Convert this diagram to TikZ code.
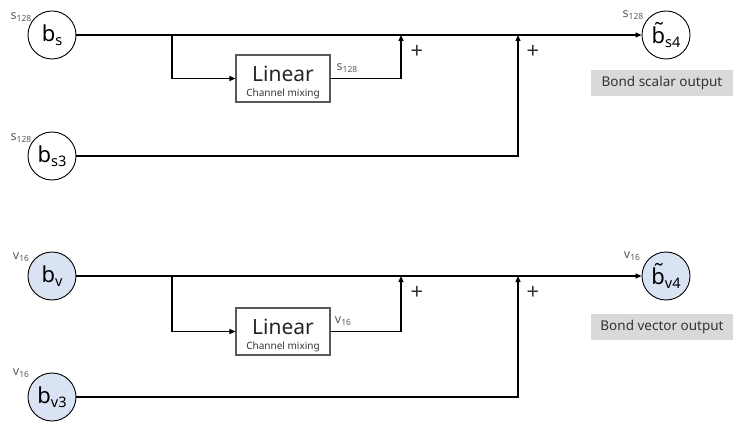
\documentclass[tikz,border=0pt]{standalone}
\usepackage{fontspec}
\setmainfont{Noto Sans}
\usetikzlibrary{arrows.meta}
\definecolor{vblue}{HTML}{DAE3F3}
\definecolor{lgray}{HTML}{D9D9D9}
\definecolor{tgray}{HTML}{595959}
\newcommand\mainsym[2]{{\fontsize{22}{22}\selectfont #1}\raisebox{-4.5pt}{\fontsize{14.5}{14.5}\selectfont #2}}
\newcommand\dimlab[2]{\textcolor{tgray}{{\fontsize{12.5}{12.5}\selectfont #1}\raisebox{-2pt}{\fontsize{8.5}{8.5}\selectfont #2}}}
\begin{document}
\begin{tikzpicture}[x=1pt,y=-1pt,
 circ/.style={circle,draw,line width=0.9pt,minimum size=48pt,inner sep=0pt},
 lin/.style={line width=1.3pt},
 arr/.style={lin,-{Triangle[length=6pt,width=5pt]}},
 linbox/.style={draw=tgray,line width=1.1pt,minimum width=94pt,minimum height=47pt,inner sep=0pt},
 bigtxt/.style={inner sep=0pt,anchor=base,font=\fontsize{21}{21}\selectfont,text=black!85},
 smalltxt/.style={inner sep=0pt,anchor=base,font=\fontsize{10}{10}\selectfont,text=black!80},
 outbox/.style={fill=lgray,minimum width=142pt,minimum height=26pt,inner sep=0pt,font=\fontsize{13.5}{13.5}\selectfont,text=black!80},
 plus/.style={font=\fontsize{22}{22}\selectfont,inner sep=0pt,text=black!80},
 dim/.style={inner sep=0pt}]
\useasboundingbox (0,0) rectangle (733,422);

% ---------- scalar part ----------
\node[circ] (bs) at (52,35) {\mainsym{b}{s}};
\node[circ] (bs3) at (52,156) {\mainsym{b}{s3}};
\node[circ] (bs4) at (666,35) {\mainsym{\~{b}}{s4}};
\node[linbox] (lins) at (283,78.5) {};
\node[bigtxt] (lins1) at (283,81.5) {Linear};
\node[smalltxt] (lins2) at (283,96.5) {Channel mixing};
\node[outbox] (os) at (662,83) {Bond scalar output};

\node[dim] (ls1) at (21,17) {\dimlab{s}{128}};
\node[dim] (ls2) at (21,138) {\dimlab{s}{128}};
\node[dim] (ls3) at (633,15) {\dimlab{s}{128}};
\node[dim] (ls4) at (347,68) {\dimlab{s}{128}};

\coordinate (brs) at (172,35);
\coordinate (js1) at (401,35);
\coordinate (js2) at (518,35);

\draw[arr] (bs.east) -- (bs4.west);
\draw[arr] (brs) |- (lins.west);
\draw[arr] (lins.east) -| (js1);
\draw[arr] (bs3.east) -| (js2);

\node[plus] (ps1) at (417,52) {+};
\node[plus] (ps2) at (533,52) {+};

% ---------- vector part ----------
\node[circ,fill=vblue] (bv) at (52,276) {\mainsym{b}{v}};
\node[circ,fill=vblue] (bv3) at (52,397) {\mainsym{b}{v3}};
\node[circ,fill=vblue] (bv4) at (666,276) {\mainsym{\~{b}}{v4}};
\node[linbox] (linv) at (283,331.5) {};
\node[bigtxt] (linv1) at (283,334.5) {Linear};
\node[smalltxt] (linv2) at (283,349.5) {Channel mixing};
\node[outbox] (ov) at (662,326.5) {Bond vector output};

\node[dim] (lv1) at (21,257) {\dimlab{v}{16}};
\node[dim] (lv2) at (21,373) {\dimlab{v}{16}};
\node[dim] (lv3) at (632,256) {\dimlab{v}{16}};
\node[dim] (lv4) at (343,321) {\dimlab{v}{16}};

\coordinate (brv) at (172,276);
\coordinate (jv1) at (401,276);
\coordinate (jv2) at (518,276);

\draw[arr] (bv.east) -- (bv4.west);
\draw[arr] (brv) |- (linv.west);
\draw[arr] (linv.east) -| (jv1);
\draw[arr] (bv3.east) -| (jv2);

\node[plus] (pv1) at (417,293) {+};
\node[plus] (pv2) at (533,293) {+};
\end{tikzpicture}
\end{document}
